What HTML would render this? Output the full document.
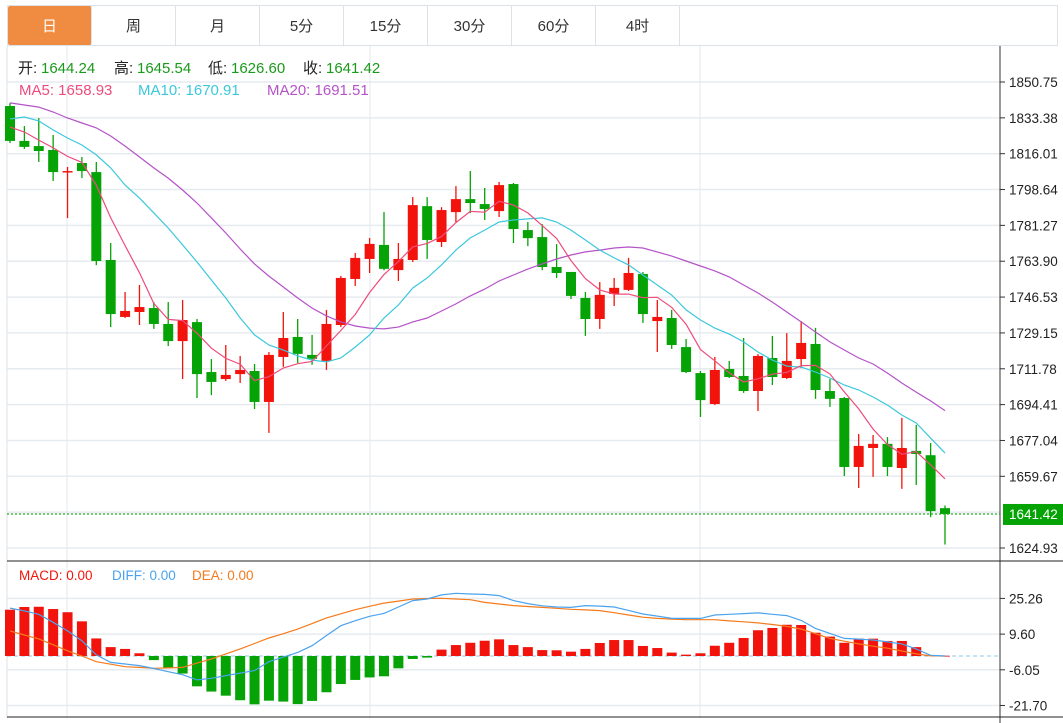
<!DOCTYPE html>
<html><head><meta charset="utf-8">
<style>
body{margin:0;background:#fff;width:1063px;height:723px;overflow:hidden;font-family:"Liberation Sans","Noto Sans CJK SC",sans-serif;}
.tabs{position:absolute;left:7px;top:5px;width:1051px;height:41px;border:1px solid #dde2e8;box-sizing:border-box;display:flex;}
.tab{width:84px;height:100%;border-right:1px solid #dde2e8;box-sizing:border-box;display:flex;align-items:center;justify-content:center;font-size:15px;color:#333;}
.tab.active{background:#f08c42;color:#fff;border-radius:2px;}
svg{position:absolute;left:0;top:0;}
</style></head><body>
<div class="tabs">
<div class="tab active">日</div>
<div class="tab">周</div>
<div class="tab">月</div>
<div class="tab">5分</div>
<div class="tab">15分</div>
<div class="tab">30分</div>
<div class="tab">60分</div>
<div class="tab">4时</div>
</div>
<svg id="chart" width="1063" height="723"></svg>
<script>
const opens=[1839.1,1822.2,1819.7,1817.8,1807.1,1811.5,1807.1,1764.5,1736.9,1739.3,1741.2,1733.5,1725.2,1734.4,1710.2,1706.8,1709.2,1710.7,1695.7,1717.5,1727.2,1718.5,1715.6,1733.0,1755.3,1765.0,1771.8,1759.6,1764.5,1790.6,1773.2,1787.7,1794.0,1791.6,1788.2,1801.3,1779.0,1775.6,1761.1,1758.7,1746.1,1735.9,1748.0,1750.0,1757.7,1734.9,1736.4,1722.3,1709.7,1694.7,1711.7,1708.3,1701.0,1717.0,1707.3,1716.5,1723.8,1701.0,1697.6,1664.2,1673.4,1675.4,1663.7,1672.0,1669.9,1644.24];
const highs=[1840.6,1829.4,1833.3,1825.1,1809.6,1814.4,1812.0,1772.7,1749.0,1752.4,1744.1,1744.1,1745.1,1735.9,1716.5,1723.3,1718.0,1714.1,1719.9,1739.3,1735.9,1728.2,1740.3,1756.8,1767.9,1775.2,1787.7,1772.7,1795.0,1795.0,1790.1,1800.3,1807.6,1799.4,1802.3,1801.8,1782.9,1781.9,1772.2,1758.7,1749.0,1753.8,1755.8,1765.5,1758.7,1745.1,1740.3,1726.2,1710.7,1717.5,1715.6,1726.7,1718.9,1727.7,1729.1,1734.9,1731.6,1706.8,1698.1,1680.2,1679.7,1678.7,1688.0,1684.6,1675.8,1645.54];
const lows=[1821.2,1818.3,1812.0,1802.8,1784.8,1804.2,1762.0,1732.0,1736.4,1733.0,1731.1,1722.8,1706.8,1697.6,1699.0,1705.9,1704.9,1692.3,1680.7,1712.7,1714.6,1713.7,1711.2,1732.0,1751.9,1758.2,1759.5,1754.3,1763.5,1765.0,1770.8,1782.9,1787.2,1783.9,1785.3,1772.7,1771.2,1759.6,1755.8,1745.6,1727.7,1731.1,1742.2,1749.5,1734.0,1719.9,1721.4,1709.7,1688.4,1694.2,1707.3,1700.1,1691.3,1703.9,1706.8,1712.1,1697.2,1693.3,1659.8,1654.0,1659.4,1659.8,1653.6,1655.5,1639.9,1626.60];
const closes=[1822.2,1819.3,1817.3,1807.1,1807.6,1807.6,1764.0,1738.3,1739.8,1741.7,1733.5,1725.2,1735.4,1709.2,1705.4,1708.8,1711.2,1695.7,1718.5,1726.7,1719.0,1716.6,1733.5,1755.8,1765.5,1772.3,1760.2,1765.0,1791.1,1774.2,1788.7,1794.0,1792.1,1789.2,1800.8,1779.5,1775.1,1761.1,1758.2,1747.1,1735.9,1747.6,1751.0,1758.2,1738.3,1736.9,1723.3,1710.2,1696.6,1711.2,1707.8,1701.0,1718.0,1707.8,1715.6,1724.3,1701.5,1697.2,1664.2,1674.4,1675.4,1664.2,1673.4,1670.5,1642.8,1641.42];
const ma5Head=[1828.9,1826.5,1822.6,1818.8];
const ma10=[1832.8,1833.8,1831.9,1827.5,1823.6,1820.2,1815.4,1809.1,1800.8,1794.5,1787.3,1780.0,1771.8,1763.5,1754.8,1746.1,1736.4,1728.2,1723.3,1720.9,1718.0,1716.0,1715.1,1717.0,1722.3,1728.2,1736.4,1742.7,1750.9,1755.8,1762.1,1769.3,1775.2,1779.0,1782.9,1783.9,1784.4,1784.9,1782.9,1779.0,1774.2,1769.3,1765.5,1762.1,1757.2,1752.4,1747.5,1740.3,1735.4,1731.5,1728.6,1724.8,1719.9,1716.0,1713.1,1712.6,1710.2,1707.3,1703.9,1701.5,1698.1,1694.2,1689.4,1685.5,1678.2,1670.91];
const ma20=[1840.6,1839.6,1838.6,1836.2,1833.3,1830.9,1828.5,1824.6,1819.7,1814.4,1809.1,1804.2,1798.4,1792.1,1784.9,1777.6,1769.8,1762.6,1756.7,1751.4,1746.1,1741.2,1737.4,1734.5,1732.5,1731.5,1731.1,1732.0,1734.5,1736.4,1739.8,1743.2,1747.1,1750.4,1754.3,1757.2,1760.1,1762.6,1765.0,1766.9,1768.4,1769.3,1770.3,1770.8,1770.3,1768.4,1766.4,1764.0,1761.6,1759.2,1756.3,1752.4,1748.5,1744.1,1739.3,1734.5,1729.6,1724.8,1720.9,1717.0,1714.1,1709.7,1704.9,1700.5,1696.2,1691.51];
const macdBars=[20.3,21.5,21.6,20.6,19.2,15.2,7.7,3.9,3.1,1.2,-1.8,-5.3,-7.7,-13.3,-15.6,-17.4,-19.4,-21.2,-19.6,-20.0,-21.1,-19.7,-15.9,-12.3,-10.5,-9.4,-8.9,-5.4,-1.3,-0.7,2.8,4.8,5.8,6.7,7.3,4.8,3.9,2.6,2.5,1.9,3.1,5.7,7.0,7.0,4.4,3.5,1.5,0.6,1.2,4.5,5.8,7.9,11.3,12.3,13.7,13.6,10.2,8.5,5.8,7.6,7.6,6.6,6.6,3.9,0.3,0.1];
const diff=[21.0,19.8,18.3,14.8,11.0,6.7,0.5,-2.8,-3.5,-4.2,-5.5,-6.9,-8.2,-10.5,-9.8,-8.6,-7.5,-6.4,-2.5,-0.5,1.6,4.5,9.0,13.3,15.5,17.4,18.7,21.5,24.3,25.0,26.8,27.5,27.2,27.0,26.5,24.3,23.0,22.0,21.5,21.3,22.1,21.9,21.5,20.0,18.4,17.5,16.5,16.5,16.5,18.0,18.3,18.6,18.9,18.3,17.7,15.6,12.1,9.9,7.7,7.4,7.0,6.2,5.3,3.1,0.3,0.0];
const dea=[11.0,9.2,7.5,4.9,2.3,0,-2.5,-3.6,-4.7,-5.0,-5.4,-5.2,-5.0,-3.1,-1.3,0.9,3.1,5.5,7.9,9.8,11.8,14.2,16.7,18.5,20.3,21.8,23.2,24.1,25.0,25.2,25.3,25.0,24.7,23.5,22.8,22.1,21.7,21.3,20.9,20.5,20.2,19.9,19.0,18.0,17.0,16.5,16.2,15.9,15.9,15.9,15.4,15.0,14.5,13.8,13.0,11.8,9.8,7.7,6.5,5.3,4.3,3.4,2.2,0.9,0.1,0.0];
const priceTicks=["1850.75","1833.38","1816.01","1798.64","1781.27","1763.90","1746.53","1729.15","1711.78","1694.41","1677.04","1659.67","1642.30","1624.93"];
const macdTicks=["25.26","9.60","-6.05","-21.70"];

const NS="http://www.w3.org/2000/svg";
const svg=document.getElementById('chart');
function mk(tag,attrs,parent){const e=document.createElementNS(NS,tag);for(const k in attrs)e.setAttribute(k,attrs[k]);(parent||svg).appendChild(e);return e;}
const pMax=1850.75,pMin=1624.93,yTop=82,yBot=548;
const py=p=>yTop+(pMax-p)*(yBot-yTop)/(pMax-pMin);
const mZero=656,mScale=2.28;
const my=v=>mZero-v*mScale;
const n=closes.length;
const xs=i=>10+i*(935/(n-1));
const RED="#f2140c",GREEN="#05a305";

// grids
const grid=mk('g',{});


priceTicks.forEach(t=>{const y=py(parseFloat(t));mk('line',{x1:7,x2:1000,y1:y,y2:y,stroke:'#e6ebf0','stroke-width':1.5},grid);});
macdTicks.forEach(t=>{const y=my(parseFloat(t));mk('line',{x1:7,x2:1000,y1:y,y2:y,stroke:'#e6ebf0','stroke-width':1.5},grid);});
[67,370,700].forEach(x=>mk('line',{x1:x,x2:x,y1:46,y2:718,stroke:'#e3e9ef','stroke-width':1},grid));
// frame
mk('line',{x1:7,x2:7,y1:46,y2:718,stroke:'#dde2e8'});
mk('line',{x1:1000,x2:1000,y1:46,y2:723,stroke:'#333'});
mk('line',{x1:7,x2:1063,y1:561,y2:561,stroke:'#222'});
mk('line',{x1:7,x2:1063,y1:717,y2:717,stroke:'#222'});

// axis labels
const ax=mk('g',{'font-size':'13.5px',fill:'#222','font-family':'Liberation Sans, sans-serif'});


priceTicks.forEach(t=>{const y=py(parseFloat(t));if(t==="1642.30")return;mk('line',{x1:1000,x2:1005,y1:y,y2:y,stroke:'#333'},ax);const tx=mk('text',{x:1009,y:y+5},ax);tx.textContent=t;});
const ax2=mk('g',{'font-size':'13.5px',fill:'#222'});


macdTicks.forEach(t=>{const y=my(parseFloat(t));mk('line',{x1:1000,x2:1005,y1:y,y2:y,stroke:'#333'},ax2);const tx=mk('text',{x:1009,y:y+5},ax2);tx.textContent=t;});

// candles
const cg=mk('g',{});


for(let i=0;i<n;i++){
  const up=closes[i]>=opens[i];const c=up?RED:GREEN;const x=xs(i);
  const g=mk('g',{},cg);
  
  
  mk('line',{x1:x,x2:x,y1:py(highs[i]),y2:py(lows[i]),stroke:c,'stroke-width':1.3},g);
  const t=py(Math.max(opens[i],closes[i])),b=py(Math.min(opens[i],closes[i]));
  mk('rect',{x:x-5,y:t,width:10,height:Math.max(b-t,1.5),fill:c},g);
}
// MAs
function line(vals,color,name){const pts=vals.map((v,i)=>xs(i).toFixed(1)+','+py(v).toFixed(1)).join(' ');const l=mk('polyline',{points:pts,fill:'none',stroke:color,'stroke-width':1.2});}
const ma5=closes.map((c,i)=>i<4?ma5Head[i]:(closes.slice(i-4,i+1).reduce((a,b)=>a+b,0)/5));
line(ma20,'#b552c8','ma20-line');
line(ma10,'#3cc8dc','ma10-line');
line(ma5,'#ee4c7c','ma5-line');

// last price
const lp=closes[n-1];const ly=py(lp);
const lpl=mk('line',{x1:7,x2:1000,y1:ly,y2:ly,stroke:'#1fb01f','stroke-dasharray':'2,2','stroke-width':1.2});


const lb=mk('rect',{x:1003,y:ly-10,width:60,height:21,fill:'#05a305'});


const lt=mk('text',{x:1009,y:ly+5,'font-size':'13.5px',fill:'#fff'});lt.textContent=lp.toFixed(2);

// MACD
mk('line',{x1:7,x2:1000,y1:mZero,y2:mZero,stroke:'#8ccbe8','stroke-dasharray':'4,3'});
const mg=mk('g',{});


macdBars.forEach((v,i)=>{const x=xs(i);const y0=my(Math.max(v,0)),y1=my(Math.min(v,0));const r=mk('rect',{x:x-5,y:y0,width:10,height:Math.max(y1-y0,0.8),fill:v>=0?RED:GREEN},mg);});
function mline(vals,color,name){const pts=vals.map((v,i)=>xs(i).toFixed(1)+','+my(v).toFixed(1)).join(' ');const l=mk('polyline',{points:pts,fill:'none',stroke:color,'stroke-width':1.2});}
mline(dea,'#f57a1c','dea-line');
mline(diff,'#4aa3ee','diff-line');

// legends
function txt(x,y,s,color,size,name){const t=mk('text',{x:x,y:y,fill:color,'font-size':size+'px'});t.textContent=s;return t;}
const G="#1a9a1a";
const parts=[["开:",18,"#222"],["1644.24",41,G],["高:",114,"#222"],["1645.54",137,G],["低:",208,"#222"],["1626.60",231,G],["收:",303,"#222"],["1641.42",326,G]];
parts.forEach(p=>txt(p[1],73,p[0],p[2],15,'ohlc-legend'));
txt(19,95,"MA5: 1658.93","#ee4c7c",15,'ma5-legend');
txt(138,95,"MA10: 1670.91","#3cc8dc",15,'ma10-legend');
txt(267,95,"MA20: 1691.51","#b552c8",15,'ma20-legend');
txt(19,580,"MACD: 0.00","#f2140c",13.5,'macd-legend');
txt(112,580,"DIFF: 0.00","#4aa3ee",13.5,'diff-legend');
txt(192,580,"DEA: 0.00","#f57a1c",13.5,'dea-legend');
</script>
</body></html>
